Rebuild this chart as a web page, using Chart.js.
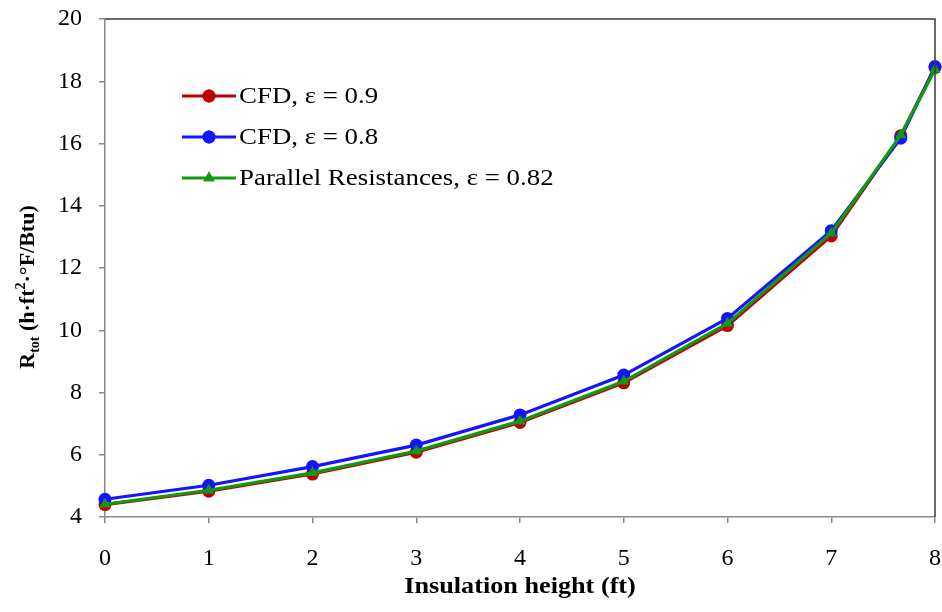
<!DOCTYPE html>
<html><head><meta charset="utf-8">
<script src="https://cdn.jsdelivr.net/npm/chart.js@4/dist/chart.umd.min.js"></script>
<style>html,body{margin:0;padding:0;background:#fff}#wrap{width:942px;height:612px}</style>
</head><body><div id="wrap"><canvas id="c" width="942" height="612"></canvas></div>
<script>
// ---- data ----
const heights = [0, 1, 2, 3, 4, 5, 6, 7, 7.67, 8];
const rCfd09 = [4.40, 4.83, 5.38, 6.08, 7.04, 8.31, 10.15, 13.03, 16.25, 18.44];
const rCfd08 = [4.57, 5.02, 5.62, 6.31, 7.28, 8.56, 10.38, 13.20, 16.17, 18.47];
const rParallel = [4.41, 4.86, 5.42, 6.12, 7.08, 8.36, 10.22, 13.12, 16.27, 18.38];
const seriesLabels = ['CFD, \u03b5 = 0.9', 'CFD, \u03b5 = 0.8', 'Parallel Resistances, \u03b5 = 0.82'];
const xTitle = 'Insulation height (ft)';
const yTitleParts = [['R', 'n'], ['tot', 'sub'], [' (h\u00b7ft', 'n'], ['2', 'sup'], ['\u00b7\u00b0F/Btu)', 'n']];
const xRange = [0, 8, 1];
const yRange = [4, 20, 2];

const FONT = '"Liberation Serif", "Times New Roman", serif';
const colors = ['#C00000', '#1414FF', '#119A11'];
const styles = ['circle', 'circle', 'triangle'];
const radii = [6.5, 6.5, 6.5];

const toPts = arr => heights.map((h, i) => ({x: h, y: arr[i]}));
const seriesData = [rCfd09, rCfd08, rParallel];
const orders = [2, 1, 0];

const datasets = seriesData.map((arr, i) => ({
  label: seriesLabels[i],
  data: toPts(arr),
  borderColor: colors[i],
  backgroundColor: colors[i],
  borderWidth: 3.2,
  pointStyle: styles[i],
  pointRadius: radii[i],
  pointBorderWidth: 0,
  tension: 0,
  clip: false,
  order: orders[i]
}));

const decor = {
  id: 'decor',
  afterDraw(chart) {
    const ctx = chart.ctx, a = chart.chartArea;
    ctx.save();
    // top & right frame
    ctx.strokeStyle = '#3a3a3a';
    ctx.lineWidth = 1.5;
    ctx.beginPath();
    ctx.moveTo(a.left, a.top); ctx.lineTo(a.right, a.top); ctx.lineTo(a.right, a.bottom);
    ctx.stroke();

    // legend
    const ly = [96, 137, 178];
    seriesLabels.forEach((lab, i) => {
      const y = ly[i];
      ctx.strokeStyle = colors[i]; ctx.lineWidth = 3.2;
      ctx.beginPath(); ctx.moveTo(182, y); ctx.lineTo(236, y); ctx.stroke();
      ctx.fillStyle = colors[i];
      Chart.helpers.drawPoint(ctx, {pointStyle: styles[i], radius: radii[i], rotation: 0, borderWidth: 0}, 209, y);
      ctx.fill();
      ctx.save();
      ctx.translate(239, y);
      ctx.scale(1.12, 1);
      ctx.fillStyle = '#000';
      ctx.font = '24px ' + FONT;
      ctx.textBaseline = 'middle';
      ctx.textAlign = 'left';
      ctx.fillText(lab, 0, 1);
      ctx.restore();
    });

    // x title
    ctx.save();
    ctx.translate((a.left + a.right) / 2, 593);
    ctx.scale(1.14, 1);
    ctx.fillStyle = '#000';
    ctx.font = 'bold 23px ' + FONT;
    ctx.textAlign = 'center';
    ctx.textBaseline = 'alphabetic';
    ctx.fillText(xTitle, 0, 0);
    ctx.restore();

    // y title (rotated, with sub/superscript)
    ctx.save();
    ctx.translate(34, 287);
    ctx.rotate(-Math.PI / 2);
    ctx.fillStyle = '#000';
    ctx.textBaseline = 'alphabetic';
    const fontFor = k => (k === 'n' ? 'bold 22px ' : 'bold 14px ') + FONT;
    let total = 0;
    yTitleParts.forEach(([t, k]) => { ctx.font = fontFor(k); total += ctx.measureText(t).width; });
    let x = -total / 2;
    yTitleParts.forEach(([t, k]) => {
      ctx.font = fontFor(k);
      const dy = k === 'sub' ? 5 : (k === 'sup' ? -9 : 0);
      ctx.fillText(t, x, dy);
      x += ctx.measureText(t).width;
    });
    ctx.restore();
    ctx.restore();
  }
};

new Chart(document.getElementById('c'), {
  type: 'line',
  data: {datasets},
  options: {
    responsive: false,
    animation: false,
    devicePixelRatio: 1,
    layout: {padding: {top: 19, right: 7, left: 0, bottom: 0}},
    plugins: {legend: {display: false}, tooltip: {enabled: false}, title: {display: false}},
    scales: {
      x: {
        type: 'linear', min: xRange[0], max: xRange[1],
        ticks: {stepSize: xRange[2], color: '#000', font: {family: FONT, size: 24}, padding: 21, maxRotation: 0},
        grid: {drawOnChartArea: false, drawTicks: true, tickLength: 6, color: '#8a8a8a', lineWidth: 1.5},
        border: {color: '#8a8a8a', width: 1.5},
        afterFit: s => { s.height = 95; s.paddingLeft = 0; s.paddingRight = 0; }
      },
      y: {
        type: 'linear', min: yRange[0], max: yRange[1],
        ticks: {stepSize: yRange[2], color: '#000', font: {family: FONT, size: 24}, padding: 17},
        grid: {drawOnChartArea: false, drawTicks: true, tickLength: 6, color: '#8a8a8a', lineWidth: 1.5},
        border: {color: '#8a8a8a', width: 1.5},
        afterFit: s => { s.width = 105; s.paddingTop = 0; s.paddingBottom = 0; }
      }
    }
  },
  plugins: [decor]
});
</script>
</body></html>
